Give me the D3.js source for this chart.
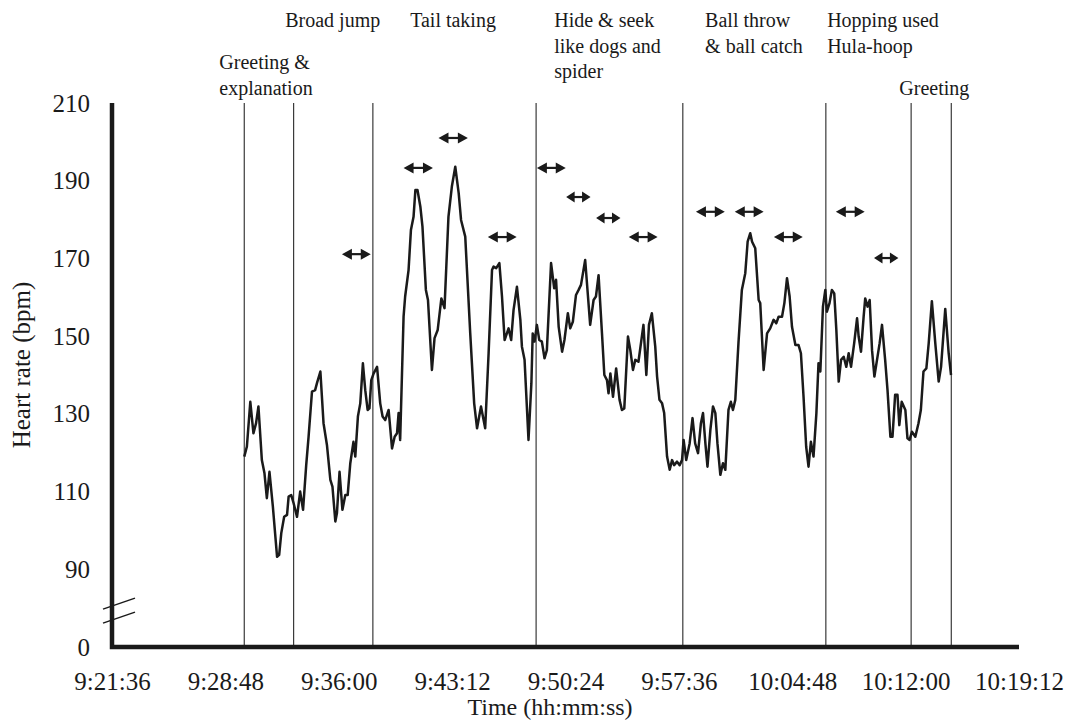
<!DOCTYPE html>
<html>
<head>
<meta charset="utf-8">
<script src="https://cdn.jsdelivr.net/npm/d3@7"></script>
<style>
body { margin: 0; background: #fff; }
text { font-family: "Liberation Serif", "Times New Roman", serif; fill: #1a1a1a; }
</style>
</head>
<body>
<div id="graph"></div>
<script>
/*
 * heart rate during the play session,
 * [seconds after sessionStart, bpm]
 */
var sessionStart = "9:30:00";

var heartRate = [
	[0, 119.0], [10, 121.6], [23, 133.1], [35, 125.0], [45, 127.6], [54, 131.9],
	[67, 118.1], [77, 114.7], [86, 108.3], [96, 115.1], [109, 106.1], [125, 93.2],
	[133, 93.7], [141, 99.3], [152, 103.5], [163, 104.0], [169, 108.7], [179, 109.1],
	[188, 107.0], [201, 103.5], [213, 110.0], [224, 105.3], [236, 116.8], [245, 124.1],
	[258, 135.7], [270, 136.1], [277, 137.9], [290, 140.9], [302, 127.6], [315, 122.0],
	[328, 113.0], [336, 111.3], [347, 102.3], [353, 104.4], [363, 115.1], [374, 105.3],
	[385, 109.1], [394, 109.1], [404, 117.3], [416, 122.8], [423, 119.0], [433, 129.3],
	[442, 132.7], [452, 143.0], [461, 136.1], [470, 131.0], [477, 131.4], [484, 138.7],
	[493, 140.4], [506, 142.1], [518, 132.7], [527, 129.3], [537, 128.4], [550, 131.0],
	[563, 121.1], [573, 124.1], [582, 125.0], [588, 130.2], [594, 123.3], [607, 155.0],
	[613, 160.2], [626, 167.0], [635, 177.3], [645, 180.7], [652, 187.6], [660, 187.6],
	[671, 183.3], [679, 178.2], [692, 161.9], [700, 159.3], [715, 141.3], [725, 149.5],
	[737, 151.6], [751, 159.7], [763, 157.2], [778, 180.7], [791, 188.5], [804, 193.6],
	[817, 186.8], [826, 179.9], [842, 175.6], [861, 150.7], [876, 132.7], [887, 126.3],
	[902, 131.9], [918, 126.3], [931, 145.6], [944, 167.0], [950, 167.9], [960, 167.5],
	[972, 168.8], [982, 160.2], [992, 149.0], [1007, 152.0], [1017, 149.0], [1026, 156.7],
	[1039, 162.7], [1052, 154.2], [1058, 147.3], [1068, 143.9], [1083, 123.3], [1094, 137.9],
	[1099, 150.7], [1106, 148.6], [1115, 152.9], [1124, 149.0], [1134, 148.6], [1144, 144.3],
	[1153, 146.4], [1169, 168.8], [1181, 162.3], [1188, 164.5], [1198, 152.4], [1211, 146.0],
	[1220, 149.0], [1233, 155.9], [1242, 152.0], [1252, 153.7], [1264, 160.6], [1274, 161.9],
	[1283, 163.2], [1299, 169.6], [1318, 152.9], [1331, 159.3], [1340, 160.2], [1350, 165.7],
	[1363, 150.7], [1372, 140.0], [1382, 138.7], [1388, 135.3], [1395, 140.4], [1405, 134.4],
	[1417, 141.7], [1430, 133.6], [1439, 131.0], [1448, 131.4], [1462, 149.9], [1471, 146.4],
	[1481, 141.3], [1490, 143.9], [1502, 143.4], [1521, 152.9], [1532, 140.0], [1542, 152.9],
	[1553, 155.9], [1566, 147.3], [1573, 139.6], [1582, 133.6], [1592, 132.7], [1600, 130.2],
	[1611, 119.0], [1621, 115.6], [1630, 118.1], [1638, 116.8], [1649, 117.7], [1659, 116.8],
	[1668, 118.1], [1674, 123.3], [1684, 118.1], [1697, 122.4], [1708, 128.9], [1718, 122.4],
	[1729, 119.9], [1740, 127.6], [1748, 130.2], [1757, 122.4], [1765, 116.4], [1776, 125.9],
	[1786, 131.9], [1795, 130.2], [1803, 122.4], [1814, 114.3], [1824, 117.3], [1833, 115.6],
	[1845, 131.0], [1854, 133.1], [1862, 131.0], [1871, 133.6], [1883, 148.2], [1896, 161.9],
	[1909, 166.2], [1918, 174.3], [1928, 176.5], [1935, 174.3], [1947, 172.6], [1960, 159.3],
	[1966, 158.5], [1979, 141.3], [1992, 150.7], [2004, 152.0], [2017, 154.2], [2027, 153.3],
	[2036, 155.0], [2049, 155.0], [2058, 158.5], [2068, 164.9], [2078, 160.2], [2087, 152.4],
	[2100, 147.7], [2112, 147.7], [2121, 145.6], [2131, 134.4], [2141, 121.6], [2150, 116.4],
	[2159, 122.8], [2169, 119.0], [2180, 130.2], [2188, 143.0], [2195, 140.9], [2205, 157.6],
	[2214, 161.9], [2220, 156.3], [2230, 158.5], [2239, 161.9], [2248, 161.0], [2256, 151.6],
	[2265, 138.3], [2274, 143.9], [2284, 144.7], [2294, 142.1], [2303, 145.6], [2312, 142.1],
	[2324, 148.2], [2335, 154.6], [2341, 149.9], [2350, 146.0], [2360, 155.0], [2366, 159.7],
	[2375, 157.6], [2383, 159.3], [2392, 146.4], [2401, 139.6], [2411, 143.9], [2421, 148.2],
	[2430, 152.9], [2442, 143.9], [2451, 136.1], [2462, 124.1], [2470, 124.1], [2480, 134.9],
	[2489, 134.9], [2496, 127.1], [2505, 133.1], [2519, 131.0], [2527, 123.7], [2535, 123.3],
	[2544, 125.4], [2557, 124.1], [2569, 127.6], [2578, 131.0], [2588, 140.9], [2599, 141.7],
	[2608, 148.2], [2620, 159.0], [2633, 148.2], [2646, 138.3], [2655, 142.1], [2671, 157.0],
	[2684, 145.6], [2693, 140.0]
];

// activity boundaries, seconds after sessionStart
var eventSeconds = [0, 188, 490, 1112, 1671, 2216, 2541, 2694];

// activity names and where their caption starts (seconds)
var activityNames = [
	["Greeting &", "explanation"],
	["Broad jump"],
	["Tail taking"],
	["Hide & seek", "like dogs and", "spider"],
	["Ball throw", "& ball catch"],
	["Hopping used", "Hula-hoop"],
	["Greeting"]
];
var activityAt = [-95, 156, 632, 1181, 1756, 2221, 2496];

// double arrows: centre (seconds), level (bpm), span (seconds)
var arrowAt = [427, 663, 796, 983, 1170, 1273, 1387, 1520, 1776, 1924, 2073, 2309, 2446];
var arrowLevel = [171.1, 193.3, 201.0, 175.5, 193.3, 185.8, 180.4, 175.5, 182.0, 182.0, 175.5, 182.0, 170.1];
var arrowSpan = [110, 112, 112, 110, 110, 93, 93, 110, 110, 110, 110, 110, 93];

var timeTicks = ["9:21:36", "9:28:48", "9:36:00", "9:43:12", "9:50:24",
	"9:57:36", "10:04:48", "10:12:00", "10:19:12"];
var hrTicks = [0, 90, 110, 130, 150, 170, 190, 210];

var width = 1071, height = 722;
var plotLeft = 112, plotRight = 1019, plotTop = 103, plotBottom = 647;

var parseClock = d3.timeParse("%H:%M:%S");
var formatClock = d3.timeFormat("%-H:%M:%S");
var start = parseClock(sessionStart);
function at(sec) { return new Date(start.getTime() + sec * 1000); }

var xScale = d3.scaleTime()
	.domain([parseClock(timeTicks[0]), parseClock(timeTicks[timeTicks.length - 1])])
	.range([plotLeft, plotRight]);

// axis is broken between 0 and 90: one step of height for that gap
var step = (plotBottom - plotTop) / 7;
var yScale = d3.scaleLinear()
	.domain([0, 90, 210])
	.range([plotBottom, plotBottom - step, plotTop]);

var svg = d3.select("#graph").append("svg")
	.attr("width", width)
	.attr("height", height);

// activity boundaries
svg.append("g")
	.selectAll("line")
	.data(eventSeconds)
	.enter().append("line")
	.attr("x1", function (d) { return xScale(at(d)); })
	.attr("x2", function (d) { return xScale(at(d)); })
	.attr("y1", yScale(210))
	.attr("y2", yScale(0))
	.attr("stroke", "#3a3a3a")
	.attr("stroke-width", 1.2);

// heart rate trace
var line = d3.line()
	.x(function (d) { return xScale(at(d[0])); })
	.y(function (d) { return yScale(d[1]); });

svg.append("path")
	.datum(heartRate)
	.attr("fill", "none")
	.attr("stroke", "#1a1a1a")
	.attr("stroke-width", 2.5)
	.attr("stroke-linejoin", "round")
	.attr("d", line);

// double headed arrows
var arrows = svg.append("g").attr("fill", "#1a1a1a").attr("stroke", "#1a1a1a");
arrowAt.forEach(function (c, i) {
	var x0 = xScale(at(c - arrowSpan[i] / 2));
	var x1 = xScale(at(c + arrowSpan[i] / 2));
	var y = yScale(arrowLevel[i]);
	var head = arrowSpan[i] < 100 ? 8.5 : 10;
	arrows.append("line")
		.attr("x1", x0 + head - 1).attr("x2", x1 - head + 1)
		.attr("y1", y).attr("y2", y)
		.attr("stroke-width", 2.2);
	arrows.append("path")
		.attr("stroke", "none")
		.attr("d", "M" + x0 + "," + y + "L" + (x0 + head) + "," + (y - 5.5)
			+ "L" + (x0 + head) + "," + (y + 5.5) + "Z"
			+ "M" + x1 + "," + y + "L" + (x1 - head) + "," + (y - 5.5)
			+ "L" + (x1 - head) + "," + (y + 5.5) + "Z");
});

// axes
var xAxis = d3.axisBottom(xScale)
	.tickValues(timeTicks.map(parseClock))
	.tickFormat(formatClock)
	.tickSize(0)
	.tickPadding(25);

svg.append("g")
	.attr("transform", "translate(0," + plotBottom + ")")
	.call(xAxis)
	.call(function (g) { g.select(".domain").remove(); })
	.selectAll("text")
	.attr("font-size", 25)
	.attr("font-family", "Liberation Serif")
	.attr("fill", "#1a1a1a");

var yAxis = d3.axisLeft(yScale)
	.tickValues(hrTicks)
	.tickSize(0)
	.tickPadding(22);

svg.append("g")
	.attr("transform", "translate(" + plotLeft + ",0)")
	.call(yAxis)
	.call(function (g) { g.select(".domain").remove(); })
	.selectAll("text")
	.attr("font-size", 25)
	.attr("font-family", "Liberation Serif")
	.attr("fill", "#1a1a1a");

svg.append("path")
	.attr("fill", "none")
	.attr("stroke", "#1a1a1a")
	.attr("stroke-width", 4.5)
	.attr("d", "M" + plotLeft + "," + yScale(210) + "V" + yScale(0) + "H" + plotRight);

// break marks on the value axis
var breakY = (yScale(0) + yScale(90)) / 2 + 3;
[-7, 7].forEach(function (off) {
	svg.append("line")
		.attr("x1", plotLeft - 9).attr("y1", breakY + off + 5)
		.attr("x2", plotLeft + 23).attr("y2", breakY + off - 6)
		.attr("stroke", "#1a1a1a")
		.attr("stroke-width", 1.5);
});

// axis titles
svg.append("text")
	.attr("x", 550)
	.attr("y", 715)
	.attr("text-anchor", "middle")
	.attr("font-size", 24)
	.text("Time (hh:mm:ss)");

svg.append("text")
	.attr("transform", "translate(30," + 365 + ") rotate(-90)")
	.attr("text-anchor", "middle")
	.attr("font-size", 25)
	.text("Heart rate (bpm)");

// activity captions
var captionTop = [69, 27, 27, 27, 27, 27, 95];
activityNames.forEach(function (lines, i) {
	var t = svg.append("text")
		.attr("x", xScale(at(activityAt[i])))
		.attr("y", captionTop[i])
		.attr("font-size", 20);
	lines.forEach(function (s, j) {
		t.append("tspan")
			.attr("x", xScale(at(activityAt[i])))
			.attr("dy", j === 0 ? 0 : 25.5)
			.text(s);
	});
});
</script>
</body>
</html>
